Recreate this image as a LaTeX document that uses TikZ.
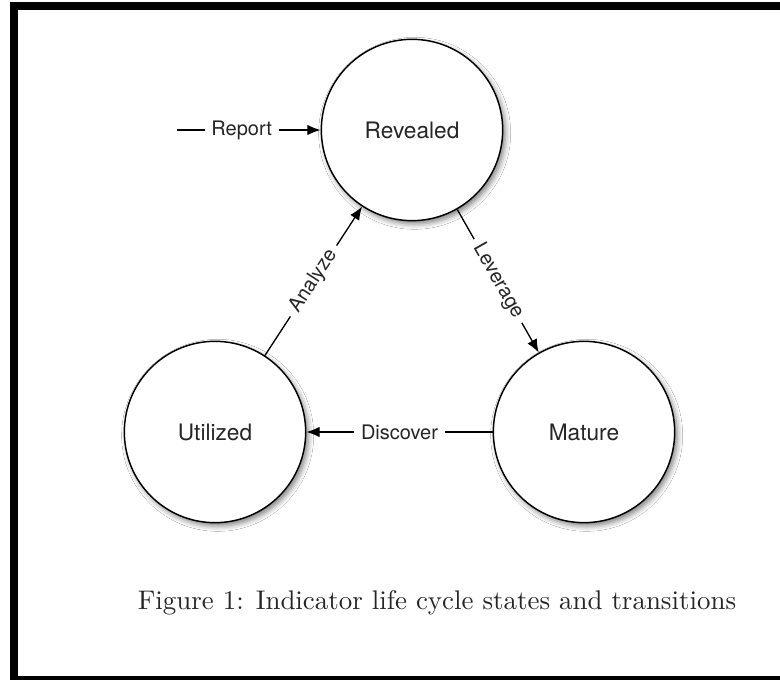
\documentclass[tikz,border=0pt]{standalone}
\usepackage{fontspec}
\setsansfont{TeX Gyre Heros}
\usepackage{graphicx}
\usetikzlibrary{arrows.meta,shadows.blur}
\begin{document}
\begin{tikzpicture}[x=0.75pt,y=-0.75pt,
  state/.style={circle,draw=black,line width=1.1pt,fill=white,minimum size=136pt,inner sep=0pt,
    font=\sffamily\fontsize{17}{20}\selectfont,text=black!85,
    blur shadow={shadow xshift=2pt,shadow yshift=-2.5pt,shadow blur radius=4pt,shadow opacity=50}},
  trans/.style={line width=1pt,-{Latex[length=10pt,width=8pt]}},
  lbl/.style={fill=white,inner xsep=5pt,inner ysep=2pt,text=black!85,
    font=\sffamily\fontsize{15}{18}\selectfont}]
\useasboundingbox (0,0) rectangle (780,680);
\fill[white] (0,0) rectangle (780,680);
\begin{scope}
\clip (0,0) rectangle (780,680);
\draw[line width=6pt] (14,6) rectangle (800,679.5);
\end{scope}
\node[state] (rev) at (412,130) {Revealed};
\node[state] (util) at (215,432) {Utilized};
\node[state] (mat) at (584,432) {Mature};
\coordinate (rs) at (177,130);
\draw[trans] (rs) -- node[lbl,pos=0.45]{Report} (rev);
\draw[trans] (util) -- node[lbl,sloped]{Analyze} (rev);
\draw[trans] (rev) -- node[lbl,sloped]{Leverage} (mat);
\draw[trans] (mat) -- node[lbl]{Discover} (util);
\node[anchor=base,inner sep=0pt,text=black!85] (cap) at (437,609)
  {\scalebox{2.02}{Figure 1: Indicator life cycle states and transitions}};
\end{tikzpicture}
\end{document}
